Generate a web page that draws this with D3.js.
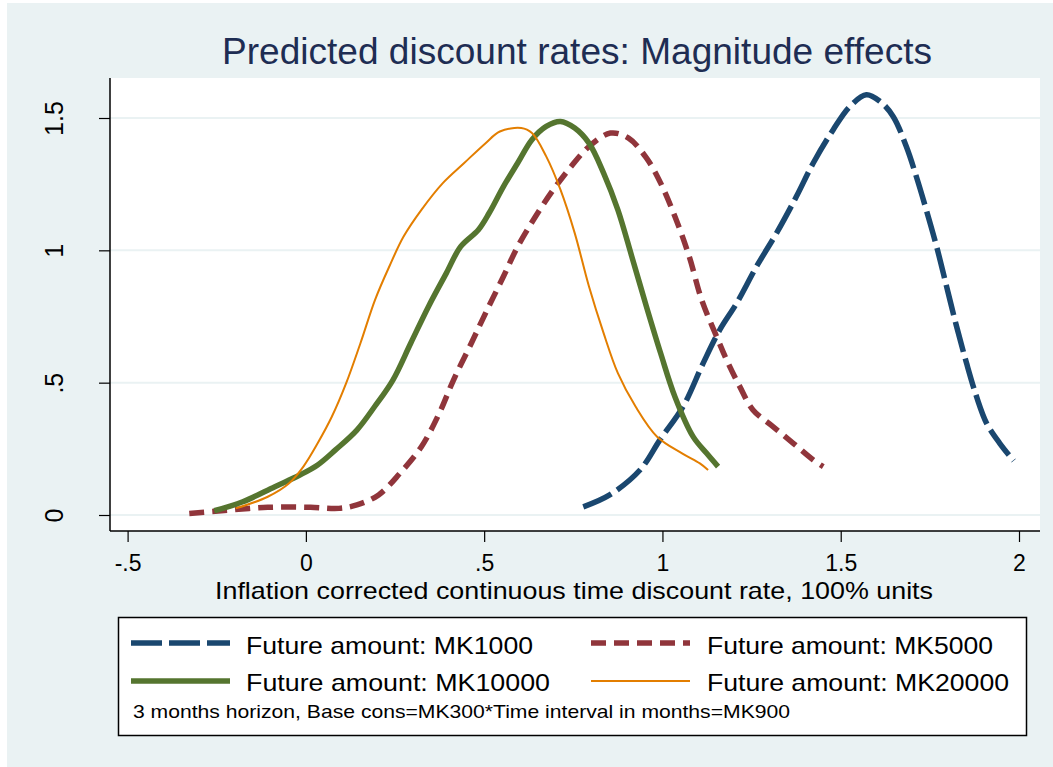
<!DOCTYPE html>
<html>
<head>
<meta charset="utf-8">
<script src="https://cdn.jsdelivr.net/npm/d3@7"></script>
<style>
  html, body { margin: 0; padding: 0; background: #ffffff; }
  svg { display: block; font-family: "Liberation Sans", Arial, sans-serif; }
</style>
</head>
<body>
<svg id="chart"></svg>
<script>
// chart data
const titleText = "Predicted discount rates: Magnitude effects";
const xTitle = "Inflation corrected continuous time discount rate, 100% units";
const noteText = "3 months horizon, Base cons=MK300*Time interval in months=MK900";

const xTicks = [-0.5, 0, 0.5, 1, 1.5, 2];
const xTickLabels = ["-.5", "0", ".5", "1", "1.5", "2"];
const yTicks = [0, 0.5, 1, 1.5];
const yTickLabels = ["0", ".5", "1", "1.5"];

const seriesNames = ["Future amount: MK1000", "Future amount: MK5000",
                     "Future amount: MK10000", "Future amount: MK20000"];

// [x, density]
const mk1000 = [
  [0.778, 0.031], [0.852, 0.076], [0.937, 0.170], [0.993, 0.284], [1.058, 0.410],
  [1.114, 0.573], [1.161, 0.700], [1.208, 0.800], [1.264, 0.939], [1.320, 1.065],
  [1.376, 1.204], [1.423, 1.330], [1.479, 1.456], [1.526, 1.544], [1.572, 1.588],
  [1.610, 1.563], [1.647, 1.506], [1.684, 1.392], [1.712, 1.279], [1.740, 1.153],
  [1.769, 1.014], [1.797, 0.863], [1.825, 0.712], [1.853, 0.573], [1.881, 0.447],
  [1.909, 0.347], [1.946, 0.271], [1.985, 0.205]
];
const mk5000 = [
  [-0.327, 0.006], [-0.237, 0.016], [-0.107, 0.029], [0.013, 0.029], [0.093, 0.025],
  [0.143, 0.038], [0.204, 0.076], [0.264, 0.158], [0.324, 0.258], [0.374, 0.384],
  [0.414, 0.510], [0.464, 0.649], [0.504, 0.763], [0.554, 0.901], [0.594, 1.014],
  [0.644, 1.128], [0.694, 1.229], [0.744, 1.317], [0.794, 1.392], [0.854, 1.443],
  [0.905, 1.424], [0.955, 1.349], [0.995, 1.254], [1.035, 1.128], [1.075, 0.977],
  [1.110, 0.813], [1.152, 0.674], [1.180, 0.586], [1.217, 0.485], [1.254, 0.397],
  [1.310, 0.334], [1.367, 0.271], [1.423, 0.208], [1.451, 0.183]
];
const mk10000 = [
  [-0.257, 0.016], [-0.177, 0.050], [-0.087, 0.107], [-0.017, 0.151], [0.033, 0.189],
  [0.083, 0.246], [0.143, 0.321], [0.193, 0.410], [0.244, 0.510], [0.294, 0.649],
  [0.344, 0.788], [0.394, 0.914], [0.434, 1.014], [0.484, 1.078], [0.514, 1.141],
  [0.554, 1.241], [0.594, 1.330], [0.634, 1.418], [0.674, 1.468], [0.714, 1.487],
  [0.754, 1.462], [0.794, 1.405], [0.835, 1.292], [0.875, 1.153], [0.914, 0.977],
  [0.955, 0.788], [0.995, 0.611], [1.035, 0.447], [1.086, 0.296], [1.124, 0.233],
  [1.156, 0.183]
];
const mk20000 = [
  [-0.197, 0.025], [-0.107, 0.069], [-0.047, 0.120], [-0.007, 0.183], [0.033, 0.271],
  [0.073, 0.372], [0.113, 0.498], [0.153, 0.649], [0.194, 0.813], [0.234, 0.939],
  [0.274, 1.052], [0.324, 1.153], [0.384, 1.254], [0.444, 1.330], [0.504, 1.405],
  [0.544, 1.449], [0.604, 1.462], [0.634, 1.443], [0.674, 1.355], [0.714, 1.229],
  [0.754, 1.065], [0.794, 0.863], [0.835, 0.687], [0.875, 0.536], [0.925, 0.409],
  [0.985, 0.296], [1.055, 0.233], [1.105, 0.195], [1.128, 0.170]
];

// styles (Stata s2color look)
const W = 1053, H = 767;
const bgColor = "#eaf2f3";
const styles = [
  {data: mk1000,  color: "#1a476f", width: 5.5, dash: "31,7"},
  {data: mk5000,  color: "#90353b", width: 5.5, dash: "15,8"},
  {data: mk10000, color: "#55752f", width: 5.5, dash: null},
  {data: mk20000, color: "#e37e00", width: 2,   dash: null}
];

const plot = {left: 110, right: 1040, top: 78, bottom: 531};
const fontFam = "Liberation Sans, Arial, sans-serif";

const svg = d3.select("#chart").attr("width", W).attr("height", H);

svg.append("rect").attr("x", 7).attr("y", 3).attr("width", W - 7).attr("height", H - 3)
  .attr("fill", bgColor);

svg.append("rect")
  .attr("x", plot.left).attr("y", plot.top)
  .attr("width", plot.right - plot.left).attr("height", plot.bottom - plot.top)
  .attr("fill", "#ffffff");

const x = d3.scaleLinear().domain([-0.5, 2]).range([127.6, 1019]);
const y = d3.scaleLinear().domain([0, 1.5]).range([515, 118]);

// gridlines
svg.append("g").selectAll("line")
  .data(yTicks)
  .join("line")
  .attr("x1", plot.left).attr("x2", plot.right)
  .attr("y1", d => y(d)).attr("y2", d => y(d))
  .attr("stroke", bgColor).attr("stroke-width", 2);

// curves
const line = d3.line()
  .x(d => x(d[0]))
  .y(d => y(d[1]))
  .curve(d3.curveCatmullRom.alpha(0.5));

styles.forEach(s => {
  svg.append("path")
    .datum(s.data)
    .attr("fill", "none")
    .attr("stroke", s.color)
    .attr("stroke-width", s.width)
    .attr("stroke-dasharray", s.dash)
    .attr("stroke-linejoin", "round")
    .attr("d", line);
});

// axes
const xAxis = svg.append("g")
  .attr("transform", `translate(0,${plot.bottom})`)
  .call(d3.axisBottom(x).tickValues(xTicks)
    .tickFormat((d, i) => xTickLabels[i]).tickSize(11).tickPadding(13));
xAxis.select(".domain").attr("d", `M${plot.left},0H${plot.right}`).attr("stroke-width", 1.5);
xAxis.selectAll(".tick line").attr("stroke-width", 1.2);
xAxis.selectAll("text").attr("font-size", 23).attr("fill", "#000")
  .attr("font-family", fontFam);

const yAxis = svg.append("g")
  .attr("transform", `translate(${plot.left},0)`)
  .call(d3.axisLeft(y).tickValues(yTicks)
    .tickFormat((d, i) => yTickLabels[i]).tickSize(11));
yAxis.select(".domain").attr("d", `M0,${plot.top}V${plot.bottom}`).attr("stroke-width", 1.5);
yAxis.selectAll(".tick line").attr("stroke-width", 1.2);
yAxis.selectAll("text")
  .attr("x", null).attr("dy", null)
  .attr("text-anchor", "middle")
  .attr("transform", "translate(-47,0) rotate(-90)")
  .attr("font-size", 25).attr("fill", "#000")
  .attr("font-family", fontFam);

// titles
svg.append("text")
  .attr("x", 577).attr("y", 64)
  .attr("text-anchor", "middle")
  .attr("font-size", 36).attr("fill", "#1e2d53")
  .attr("textLength", 710).attr("lengthAdjust", "spacingAndGlyphs")
  .text(titleText);

svg.append("text")
  .attr("x", 574).attr("y", 599)
  .attr("text-anchor", "middle")
  .attr("font-size", 24).attr("fill", "#000")
  .attr("textLength", 718).attr("lengthAdjust", "spacingAndGlyphs")
  .text(xTitle);

// legend
const legend = svg.append("g");
legend.append("rect")
  .attr("x", 118.5).attr("y", 617.5).attr("width", 908).attr("height", 118)
  .attr("fill", "#ffffff").attr("stroke", "#000").attr("stroke-width", 1.5);

const legendPos = [
  {lx: 131, tx: 246, ly: 643, ty: 654, len: 287},
  {lx: 591, tx: 707, ly: 643, ty: 654, len: 286},
  {lx: 131, tx: 246, ly: 681, ty: 691, len: 304},
  {lx: 591, tx: 707, ly: 681, ty: 691, len: 302}
];

styles.forEach((s, i) => {
  const p = legendPos[i];
  legend.append("line")
    .attr("x1", p.lx).attr("x2", p.lx + 99)
    .attr("y1", p.ly).attr("y2", p.ly)
    .attr("stroke", s.color).attr("stroke-width", s.width)
    .attr("stroke-dasharray", s.dash);
  legend.append("text")
    .attr("x", p.tx).attr("y", p.ty)
    .attr("font-size", 24).attr("fill", "#000")
    .attr("textLength", p.len).attr("lengthAdjust", "spacingAndGlyphs")
    .text(seriesNames[i]);
});

legend.append("text")
  .attr("x", 133).attr("y", 718)
  .attr("font-size", 19).attr("fill", "#000")
  .attr("textLength", 657).attr("lengthAdjust", "spacingAndGlyphs")
  .text(noteText);
</script>
</body>
</html>
